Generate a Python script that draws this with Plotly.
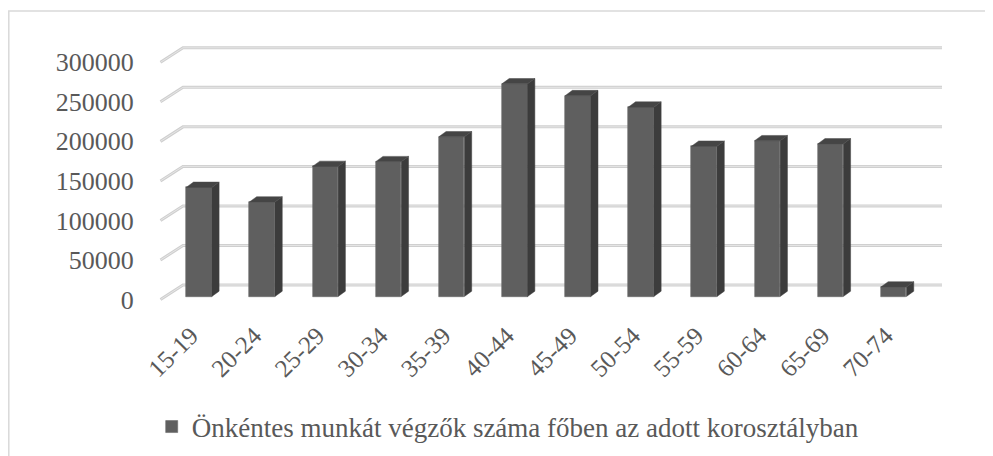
import plotly.graph_objects as go

# ---- data ----
categories = ["15-19", "20-24", "25-29", "30-34", "35-39", "40-44",
              "45-49", "50-54", "55-59", "60-64", "65-69", "70-74"]
values = [138000, 119500, 164500, 170500, 202000, 269000,
          254000, 239500, 190000, 197000, 193000, 12000]
y_ticks = [0, 50000, 100000, 150000, 200000, 250000, 300000]
series_name = "Önkéntes munkát végzők száma főben az adott korosztályban"

# ---- geometry (reference pixel layout -> data units) ----
PAGE_OFF = 8                                 # default body margin of the html page
W, H = 993 - PAGE_OFF, 456 - PAGE_OFF
PL, PR, PT, PB = 150, 960, 40, 310          # plot area in reference pixels
CAT_PX = 63.15                               # px per category
X0_PX = 199.0                                # px of first category
Y0_PX = 296.5                                # px of value 0 (bar front plane)
VAL_PER_PX = 300000 / 237.2

def px_to_x(px):
    return (px - X0_PX) / CAT_PX

def px_to_dy(dpx):
    return dpx * VAL_PER_PX

x_range = [px_to_x(PL), px_to_x(PR)]
y_range = [(Y0_PX - PB) * VAL_PER_PX, (Y0_PX - PT) * VAL_PER_PX]

bar_w = 25.6 / CAT_PX
depth_dx = 7.3 / CAT_PX
depth_dy = px_to_dy(5.3)

# wall / floor offsets
front_x = px_to_x(160.5)
front_dy = px_to_dy(Y0_PX - 299.5)
back_x_l = px_to_x(183.0)
back_x_r = px_to_x(942.0)
back_dy = px_to_dy(Y0_PX - 285.0)

TEXT = "#595959"
FONT = "Liberation Serif"

fig = go.Figure()

# front faces
xs = list(range(len(categories)))
fig.add_trace(go.Bar(
    x=xs, y=values, width=bar_w, name=series_name,
    marker=dict(color="#5f5f5f", line=dict(color="#6a6a6a", width=0.6)),
    showlegend=True, hoverinfo="skip"))

# side and top faces
sx, sy = [], []
tx, ty = [], []
for i, v in enumerate(values):
    r = i + bar_w / 2
    l = i - bar_w / 2
    sx += [r, r + depth_dx, r + depth_dx, r, r, None]
    sy += [0, depth_dy, v + depth_dy, v, 0, None]
    tx += [l, l + depth_dx, r + depth_dx, r, l, None]
    ty += [v, v + depth_dy, v + depth_dy, v, v, None]

fig.add_trace(go.Scatter(x=sx, y=sy, mode="lines", fill="toself",
                         fillcolor="#3c3c3c", line=dict(color="#404040", width=0.5),
                         showlegend=False, hoverinfo="skip"))
fig.add_trace(go.Scatter(x=tx, y=ty, mode="lines", fill="toself",
                         fillcolor="#454545", line=dict(color="#4a4a4a", width=0.5),
                         showlegend=False, hoverinfo="skip"))

# gridlines on side + back wall (drawn below traces)
shapes = []
for v in y_ticks:
    path = (f"M {front_x},{v + front_dy} L {back_x_l},{v + back_dy} "
            f"L {back_x_r},{v + back_dy}")
    shapes.append(dict(type="path", path=path, xref="x", yref="y", layer="below",
                       line=dict(color="#cfcfcf", width=3)))
    shapes.append(dict(type="path", path=path, xref="x", yref="y", layer="below",
                       line=dict(color="#e6e6e6", width=1)))

# chart frame
def pxx(px):
    return (px - PL) / (PR - PL)

def pxy(py):
    return (PB - py) / (PB - PT)

shapes.append(dict(type="rect", xref="paper", yref="paper",
                   x0=pxx(8.8), x1=pxx(1010), y0=pxy(475), y1=pxy(11),
                   line=dict(color="#d9d9d9", width=1.5), layer="below"))

fig.update_layout(
    width=W, height=H,
    margin=dict(l=PL - PAGE_OFF, r=993 - PR, t=PT - PAGE_OFF, b=456 - PB,
                autoexpand=False),
    paper_bgcolor="white", plot_bgcolor="white",
    font=dict(family=FONT, color=TEXT, size=26),
    shapes=shapes,
    bargap=0,
    xaxis=dict(range=x_range, tickmode="array", tickvals=xs, ticktext=categories,
               tickangle=-45, showgrid=False, zeroline=False, showline=False,
               ticks="", ticklabelstandoff=5, ticklabelshift=-8,
               tickfont=dict(size=25, family=FONT, color=TEXT)),
    yaxis=dict(range=y_range, tickmode="array",
               tickvals=[v + front_dy for v in y_ticks],
               ticktext=[str(v) for v in y_ticks],
               showgrid=False, zeroline=False, showline=False,
               ticks="outside", ticklen=10, tickcolor="rgba(0,0,0,0)",
               tickfont=dict(size=26, family=FONT, color=TEXT)),
    legend=dict(orientation="h", x=pxx(151.7), xanchor="left",
                y=pxy(427), yanchor="middle",
                font=dict(size=27, family=FONT, color=TEXT),
                bgcolor="rgba(0,0,0,0)"),
)

fig.write_html("out.html")
